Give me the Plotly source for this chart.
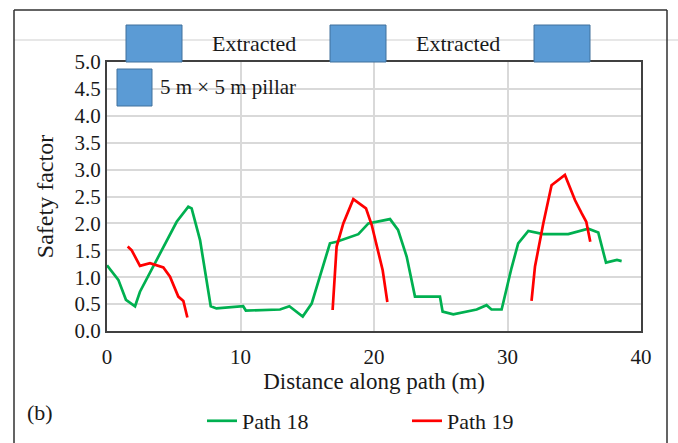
import plotly.graph_objects as go

# ---- data ----
path18_x = [0.0, 0.85, 1.42, 2.1, 2.47, 3.47, 4.34, 5.22, 6.09, 6.34, 6.97, 7.77, 8.2, 9.46, 10.2, 10.4,
            11.96, 12.96, 13.66, 14.66, 15.33, 16.7, 17.2, 18.2, 18.83, 19.58, 20.45, 21.2, 21.8, 22.45,
            23.07, 24.94, 25.14, 25.94, 27.69, 28.43, 28.8, 29.56, 30.3, 30.8, 31.56, 32.68, 34.55,
            36.05, 36.8, 37.38, 38.2, 38.55]
path18_y = [1.22, 0.95, 0.58, 0.46, 0.73, 1.2, 1.6, 2.03, 2.31, 2.28, 1.69, 0.46, 0.42, 0.45, 0.46, 0.38,
            0.40, 0.40, 0.46, 0.27, 0.51, 1.63, 1.66, 1.74, 1.80, 2.0, 2.04, 2.08, 1.88, 1.38,
            0.64, 0.64, 0.36, 0.31, 0.40, 0.48, 0.40, 0.40, 1.17, 1.63, 1.86, 1.80, 1.80,
            1.90, 1.83, 1.27, 1.32, 1.30]

path19_x = [1.55, 1.85, 2.47, 3.22, 4.22, 4.72, 5.34, 5.72, 6.02, None,
            16.9, 17.08, 17.2, 17.7, 18.45, 19.4, 19.83, 20.65, 21.0, None,
            31.8, 32.06, 32.68, 33.3, 34.3, 35.06, 35.55, 35.9, 36.2]
path19_y = [1.57, 1.50, 1.21, 1.26, 1.18, 1.01, 0.64, 0.56, 0.25, None,
            0.39, 1.17, 1.57, 2.0, 2.45, 2.28, 1.97, 1.13, 0.54, None,
            0.56, 1.2, 2.0, 2.71, 2.90, 2.43, 2.19, 2.03, 1.66]

x_ticks = [0, 10, 20, 30, 40]
y_ticks = [0.0, 0.5, 1.0, 1.5, 2.0, 2.5, 3.0, 3.5, 4.0, 4.5, 5.0]

FONT = "Liberation Serif"
W, H = 678, 443
L, R, T, B = 107, 641, 62, 331  # plot area in pixels


def px(x):
    return (x - L) / (R - L)


def py(y):
    return (B - y) / (B - T)


fig = go.Figure()
fig.add_trace(go.Scatter(x=path18_x, y=path18_y, mode="lines", name="Path 18", legend="legend",
                         line=dict(color="#00B050", width=2.7)))
fig.add_trace(go.Scatter(x=path19_x, y=path19_y, mode="lines", name="Path 19", legend="legend2",
                         line=dict(color="#FF0000", width=2.7), connectgaps=False))

shapes = []
# outer frame
shapes.append(dict(type="line", xref="paper", yref="paper", x0=px(14), x1=px(14), y0=py(10), y1=py(445),
                   line=dict(color="#303030", width=1.5)))
shapes.append(dict(type="line", xref="paper", yref="paper", x0=px(14), x1=px(667), y0=py(10), y1=py(10),
                   line=dict(color="#303030", width=1.5)))
shapes.append(dict(type="line", xref="paper", yref="paper", x0=px(667), x1=px(667), y0=py(10), y1=py(445),
                   line=dict(color="#303030", width=1.5)))
# faint line at top
shapes.append(dict(type="line", xref="paper", yref="paper", x0=px(14), x1=px(678), y0=py(40), y1=py(40),
                   line=dict(color="#cfcfcf", width=1), layer="below"))
# pillar boxes
for x0 in [126, 330, 534]:
    shapes.append(dict(type="rect", xref="paper", yref="paper", x0=px(x0), x1=px(x0 + 56),
                       y0=py(62), y1=py(25), fillcolor="#5B9BD5", line=dict(color="#41719C", width=1)))
shapes.append(dict(type="rect", xref="paper", yref="paper", x0=px(117), x1=px(152),
                   y0=py(106), y1=py(69), fillcolor="#5B9BD5", line=dict(color="#41719C", width=1)))

TXT = "#1a1a1a"
annotations = [
    dict(text="Extracted", xref="paper", yref="paper", x=px(254), y=py(43), showarrow=False,
         xanchor="center", yanchor="middle", font=dict(family=FONT, size=22, color=TXT)),
    dict(text="Extracted", xref="paper", yref="paper", x=px(458), y=py(43), showarrow=False,
         xanchor="center", yanchor="middle", font=dict(family=FONT, size=22, color=TXT)),
    dict(text="5 m × 5 m pillar", xref="paper", yref="paper", x=px(158), y=py(87), xanchor="left",
         yanchor="middle", showarrow=False, font=dict(family=FONT, size=21, color=TXT)),
    dict(text="(b)", xref="paper", yref="paper", x=px(40), y=py(413), showarrow=False,
         xanchor="center", yanchor="middle", font=dict(family=FONT, size=22, color=TXT)),
]

leg_common = dict(orientation="h", yanchor="middle", xanchor="left",
                  font=dict(family=FONT, size=22, color=TXT), bgcolor="rgba(0,0,0,0)",
                  itemwidth=30, borderwidth=0)

fig.update_layout(
    width=W, height=H,
    margin=dict(l=L, r=W - R, t=T, b=H - B, pad=0, autoexpand=False),
    paper_bgcolor="white", plot_bgcolor="white",
    font=dict(family=FONT, size=20, color=TXT),
    shapes=shapes, annotations=annotations,
    showlegend=True,
    legend=dict(x=px(202), y=py(421), **leg_common),
    legend2=dict(x=px(407), y=py(421), **leg_common),
    xaxis=dict(range=[0, 40], tickvals=x_ticks, ticktext=[str(v) for v in x_ticks],
               showgrid=True, gridcolor="#d9d9d9", gridwidth=1.5, zeroline=False,
               showline=True, mirror=True, linecolor="#404040", linewidth=2, ticks="",
               tickfont=dict(family=FONT, size=21, color=TXT), ticklabelstandoff=6,
               title=dict(text="Distance along path (m)", font=dict(family=FONT, size=23, color=TXT),
                          standoff=4)),
    yaxis=dict(range=[0, 5], tickvals=y_ticks, ticktext=[f"{v:.1f}" for v in y_ticks],
               showgrid=True, gridcolor="#d9d9d9", gridwidth=1.5, zeroline=False,
               showline=True, mirror=True, linecolor="#404040", linewidth=2, ticks="",
               tickfont=dict(family=FONT, size=21, color=TXT),
               title=dict(text="Safety factor", font=dict(family=FONT, size=24, color=TXT),
                          standoff=14)),
)

fig.write_html("out.html", config={"displayModeBar": False},
               post_script="document.body.style.margin='0';")
